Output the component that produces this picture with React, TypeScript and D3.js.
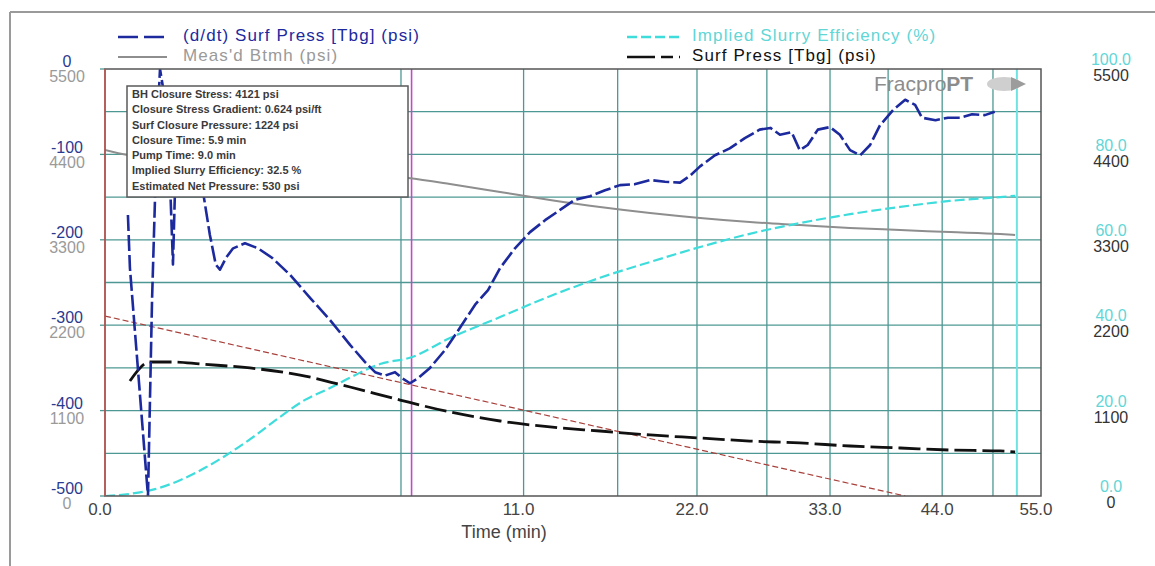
import React from 'react';
import * as d3 from 'd3';

const W = 1155;
const H = 566;
const PLOT = { left: 105, right: 1041, top: 69, bottom: 496 };
const FONT = '"Liberation Sans", Arial, Helvetica, sans-serif';

// Time axis (min), square-root spaced
const timeTicks = [0, 11, 22, 33, 44, 55];
const timeGrid = [5.5, 11, 16.5, 22, 27.5, 33, 38.5, 44, 49.5];
const closureTime = 5.9;
const endTime = 52.2;

// Axis tick labels
const derivTicks = [0, -100, -200, -300, -400, -500];
const btmhTicks = [5500, 4400, 3300, 2200, 1100, 0];
const effTicks = [100, 80, 60, 40, 20, 0];
const surfTicks = [5500, 4400, 3300, 2200, 1100, 0];

// (d/dt) Surf Press [Tbg] (psi) : [time, value]
const derivSeries: [number, number][] = [
  [0.033, -171], [0.039, -233], [0.116, -500], [0.139, -270], [0.17, -71], [0.19, 0],
  [0.226, -36], [0.265, -130], [0.29, -229], [0.317, -95], [0.353, -36], [0.433, -60],
  [0.51, -95], [0.6, -142], [0.69, -194], [0.77, -229], [0.83, -235], [0.92, -221],
  [1.03, -210], [1.23, -204], [1.47, -210], [1.75, -221], [2.15, -241], [2.64, -268],
  [3.18, -294], [3.77, -323], [4.24, -343], [4.58, -355], [4.92, -359], [5.28, -355],
  [5.54, -362], [5.84, -368], [6.15, -362], [6.63, -350], [7.26, -329], [7.91, -303],
  [8.6, -276], [9.21, -259], [9.8, -233], [10.55, -210], [11.34, -191], [12.16, -177],
  [13.0, -165], [13.87, -153], [14.77, -149], [15.7, -142], [16.65, -136], [17.6, -135],
  [18.65, -130], [19.69, -132], [20.76, -133], [21.49, -125], [22.23, -114], [23.36, -101],
  [24.5, -93], [25.7, -81], [26.9, -71], [27.8, -69], [28.6, -77], [29.6, -74],
  [30.3, -95], [31.0, -89], [31.9, -71], [33.0, -68], [33.9, -77], [34.85, -95],
  [35.8, -101], [36.75, -89], [37.7, -66], [39.0, -48], [40.2, -36], [41.2, -42],
  [41.9, -57], [43.3, -60], [44.6, -57], [45.9, -57], [47.2, -53], [48.6, -54], [49.7, -50],
];

// Meas'd Btmh (psi)
const btmhSeries: [number, number][] = [
  [0, 4457], [0.033, 4392], [1.0, 4300], [3.0, 4180], [5.77, 4096], [7.47, 4019],
  [9.8, 3916], [12.43, 3813], [15.38, 3722], [18.65, 3645], [22.23, 3581], [26.1, 3529],
  [30.3, 3490], [34.85, 3452], [39.7, 3426], [44.8, 3400], [50.3, 3375], [52.0, 3362],
];

// Implied Slurry Efficiency (%)
const effSeries: [number, number][] = [
  [0, 0], [0.039, 0.5], [0.157, 1.6], [0.353, 3.7], [0.628, 6.6], [0.98, 10.1],
  [1.41, 14.1], [1.92, 18.5], [2.51, 22.5], [3.18, 25.3], [3.92, 28.3], [4.75, 30.9],
  [5.9, 32.5], [7.47, 37.0], [9.8, 41.9], [12.43, 46.8], [15.38, 51.1], [18.65, 54.8],
  [22.23, 58.3], [26.1, 61.4], [30.3, 63.9], [34.85, 66.0], [39.7, 67.7], [44.8, 69.1],
  [50.3, 70.0], [52.0, 70.3],
];

// Surf Press [Tbg] (psi)
const surfSeries: [number, number][] = [
  [0.039, 1481], [0.127, 1726], [0.308, 1726], [0.567, 1700], [1.32, 1649], [2.39, 1558],
  [3.77, 1404], [5.47, 1236], [7.47, 1082], [9.8, 966], [12.43, 889], [15.38, 837],
  [18.65, 786], [22.23, 747], [26.1, 708], [30.3, 683], [34.85, 644], [39.7, 618],
  [44.8, 592], [50.3, 580], [52.0, 567],
];

// Closure tangent line on surface pressure
const tangentSeries: [number, number][] = [[0, 2318], [40.2, 0]];

const closureInfo = [
  'BH Closure Stress: 4121 psi',
  'Closure Stress Gradient: 0.624 psi/ft',
  'Surf Closure Pressure: 1224 psi',
  'Closure Time: 5.9 min',
  'Pump Time: 9.0 min',
  'Implied Slurry Efficiency: 32.5 %',
  'Estimated Net Pressure: 530 psi',
];

const C = {
  deriv: '#1c2a9e',
  derivLabel: '#2b3990',
  btmh: '#8e8e8e',
  btmhLabel: '#9a9a9a',
  eff: '#3fdcdc',
  effLabel: '#62d6d6',
  surf: '#111111',
  surfLabel: '#333333',
  grid: '#4e9893',
  frame: '#555555',
  tangent: '#a8403c',
  closure: '#c04cc4',
  end: '#6fe2e2',
  start: '#d0504c',
};

export default function App() {
  const x = d3.scalePow().exponent(0.5).domain([0, 55]).range([PLOT.left, PLOT.right]);
  const yDeriv = d3.scaleLinear().domain([-500, 0]).range([PLOT.bottom, PLOT.top]);
  const yPress = d3.scaleLinear().domain([0, 5500]).range([PLOT.bottom, PLOT.top]);
  const yEff = d3.scaleLinear().domain([0, 100]).range([PLOT.bottom, PLOT.top]);

  const hGrid = d3.range(0, 11).map((i) => PLOT.top + (i * (PLOT.bottom - PLOT.top)) / 10);

  const lineOn = (ys: d3.ScaleLinear<number, number>, curve = d3.curveLinear) =>
    d3
      .line<[number, number]>()
      .x((d) => x(d[0]))
      .y((d) => ys(d[1]))
      .curve(curve);

  const derivPath = lineOn(yDeriv)(derivSeries) || '';
  const btmhPath = lineOn(yPress, d3.curveMonotoneX)(btmhSeries) || '';
  const effPath = lineOn(yEff, d3.curveMonotoneX)(effSeries) || '';
  const surfPath = lineOn(yPress, d3.curveMonotoneX)(surfSeries) || '';
  const tangentPath = lineOn(yPress)(tangentSeries) || '';

  const leftX = 67;
  const rightX = 1111;
  const legendRow1 = 37;
  const legendRow2 = 57;

  return (
    <svg
      width={W}
      height={H}
      viewBox={`0 0 ${W} ${H}`}
      style={{ position: 'absolute', left: 0, top: 0, display: 'block', background: '#fff' }}
      fontFamily={FONT}
    >
      <defs>
        <clipPath id="plot-clip">
          <rect x={PLOT.left} y={PLOT.top} width={PLOT.right - PLOT.left} height={PLOT.bottom - PLOT.top} />
        </clipPath>
      </defs>

      {/* outer frame */}
      <line x1={10} x2={W} y1={12} y2={12} stroke="#9a9a9a" strokeWidth={2} />
      <line x1={10} x2={10} y1={12} y2={H} stroke="#9a9a9a" strokeWidth={2} />

      {/* legend */}
      <g fontSize={17} letterSpacing={1.1}>
        <line x1={118} x2={167} y1={legendRow1} y2={legendRow1} stroke={C.deriv} strokeWidth={2.5} strokeDasharray="20 6" />
        <text x={183} y={legendRow1} dominantBaseline="middle" fill={C.deriv}>(d/dt) Surf Press [Tbg] (psi)</text>
        <line x1={118} x2={167} y1={legendRow2} y2={legendRow2} stroke={C.btmh} strokeWidth={2} />
        <text x={183} y={legendRow2} dominantBaseline="middle" fill={C.btmhLabel}>Meas'd Btmh (psi)</text>
        <line x1={627} x2={680} y1={legendRow1} y2={legendRow1} stroke={C.eff} strokeWidth={2.5} strokeDasharray="10 4" />
        <text x={692} y={legendRow1} dominantBaseline="middle" fill={C.effLabel}>Implied Slurry Efficiency (%)</text>
        <line x1={627} x2={680} y1={legendRow2} y2={legendRow2} stroke={C.surf} strokeWidth={2.5} strokeDasharray="28 6 12 6" />
        <text x={692} y={legendRow2} dominantBaseline="middle" fill={C.surf}>Surf Press [Tbg] (psi)</text>
      </g>

      {/* grid */}
      <g stroke={C.grid} strokeWidth={1.3}>
        {hGrid.slice(1, 10).map((y, i) => (
          <line key={`h${i}`} x1={PLOT.left} x2={PLOT.right} y1={y} y2={y} />
        ))}
        {timeGrid.map((t) => (
          <line key={`v${t}`} x1={x(t)} x2={x(t)} y1={PLOT.top} y2={PLOT.bottom} />
        ))}
        {derivTicks.map((v) => (
          <line key={`tk${v}`} x1={PLOT.left - 5} x2={PLOT.left} y1={yDeriv(v)} y2={yDeriv(v)} />
        ))}
      </g>

      {/* event markers */}
      <line x1={x(closureTime)} x2={x(closureTime)} y1={PLOT.top} y2={PLOT.bottom} stroke={C.closure} strokeWidth={1.6} />
      <line x1={x(endTime)} x2={x(endTime)} y1={PLOT.top} y2={PLOT.bottom} stroke={C.end} strokeWidth={2} />

      {/* series */}
      <g clipPath="url(#plot-clip)" fill="none">
        <path d={tangentPath} stroke={C.tangent} strokeWidth={1.2} strokeDasharray="6 3" />
        <path d={btmhPath} stroke={C.btmh} strokeWidth={2} />
        <path d={effPath} stroke={C.eff} strokeWidth={2.2} strokeDasharray="10 4" />
        <path d={surfPath} stroke={C.surf} strokeWidth={2.8} strokeDasharray="22 6" />
        <path d={derivPath} stroke={C.deriv} strokeWidth={2.6} strokeDasharray="16 4" strokeLinejoin="round" />
      </g>

      {/* plot frame */}
      <rect
        x={PLOT.left}
        y={PLOT.top}
        width={PLOT.right - PLOT.left}
        height={PLOT.bottom - PLOT.top}
        fill="none"
        stroke={C.frame}
        strokeWidth={1.5}
      />
      <line x1={x(0)} x2={x(0)} y1={PLOT.top} y2={PLOT.bottom} stroke={C.start} strokeWidth={1.3} />

      {/* closure summary box */}
      <g>
        <rect x={127} y={86} width={281} height={111} fill="#fff" stroke="#5a5a5a" strokeWidth={1.5} />
        {closureInfo.map((s, i) => (
          <text key={s} x={132} y={95 + i * 15.3} dominantBaseline="middle" fontSize={11} fontWeight="bold" fill="#3a3a3a">
            {s}
          </text>
        ))}
      </g>

      {/* logo */}
      <g>
        <text x={874} y={91} fontSize={21} fill="#8c8c8c">
          Fracpro<tspan fontWeight="bold">PT</tspan>
        </text>
        <ellipse cx={1004} cy={84} rx={17} ry={7} fill="#cfcfcf" />
        <path d="M1011,77 L1026,84 L1011,91 Z" fill="#9c9c9c" />
      </g>

      {/* left axes */}
      <g fontSize={16} textAnchor="middle">
        {derivTicks.map((v) => (
          <text key={`d${v}`} x={leftX} y={yDeriv(v) - 6} dominantBaseline="middle" fill={C.derivLabel}>
            {v}
          </text>
        ))}
        {btmhTicks.map((v) => (
          <text key={`b${v}`} x={leftX} y={yPress(v) + 9} dominantBaseline="middle" fill={C.btmhLabel}>
            {v}
          </text>
        ))}
      </g>

      {/* right axes */}
      <g fontSize={16} textAnchor="middle">
        {effTicks.map((v) => (
          <text key={`e${v}`} x={rightX} y={yEff(v) - 8} dominantBaseline="middle" fill={C.effLabel}>
            {v.toFixed(1)}
          </text>
        ))}
        {surfTicks.map((v) => (
          <text key={`s${v}`} x={rightX} y={yPress(v) + 8} dominantBaseline="middle" fill={C.surfLabel}>
            {v}
          </text>
        ))}
      </g>

      {/* time axis */}
      <g textAnchor="middle" fill="#444">
        {timeTicks.map((t) => (
          <text key={`t${t}`} x={x(t) - 5} y={511} dominantBaseline="middle" fontSize={17}>
            {t.toFixed(1)}
          </text>
        ))}
        <text x={504} y={533} dominantBaseline="middle" fontSize={18}>Time (min)</text>
      </g>
    </svg>
  );
}
